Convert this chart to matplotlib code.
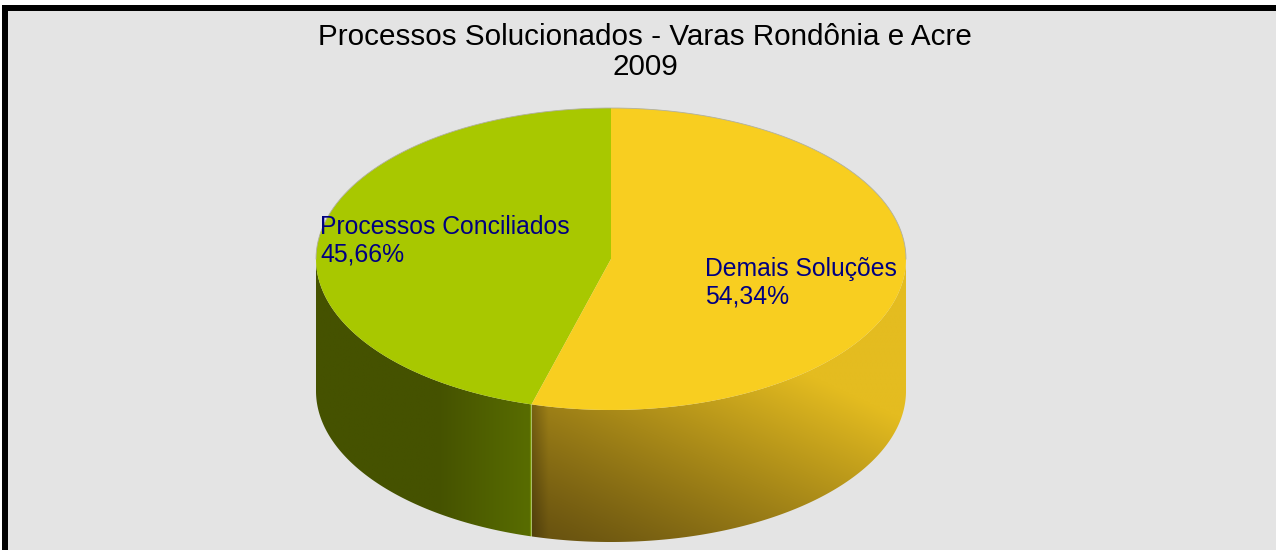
import matplotlib
matplotlib.use("Agg")
import matplotlib.pyplot as plt
import numpy as np
from matplotlib.colors import to_rgb
from matplotlib.patches import Polygon, Rectangle

title = "Processos Solucionados - Varas Rondônia e Acre\n2009"
labels = ["Processos Conciliados", "Demais Soluções"]
shares = [45.66, 54.34]
top_colors = ["#a8c800", "#f8ce20"]

# pie geometry, in pixels (y grows downwards)
CX, CY = 611, 259
RX, RY = 295, 151
DEPTH = 132
W, H = 1276, 550


def arc(t0, t1, n=200, dy=0.0):
    t = np.radians(np.linspace(t0, t1, n))
    return np.column_stack([CX + RX * np.cos(t), CY - RY * np.sin(t) + dy])


def side_poly(t0, t1):
    top = arc(t0, t1)
    bot = arc(t0, t1, dy=DEPTH)[::-1]
    return np.vstack([top, bot])


def gradient_fill(ax, poly, rgb, x0, x1, y0, y1):
    patch = Polygon(poly, closed=True, facecolor="none", edgecolor="none")
    ax.add_patch(patch)
    im = ax.imshow(rgb, extent=(x0, x1, y1, y0), origin="upper",
                   interpolation="bilinear", zorder=2)
    im.set_clip_path(patch)


fig = plt.figure(figsize=(W / 100, H / 100), dpi=100)
fig.patch.set_facecolor("white")
ax = fig.add_axes([0, 0, 1, 1])
ax.set_xlim(0, W)
ax.set_ylim(H, 0)
ax.axis("off")

# frame
ax.add_patch(Rectangle((2, 5), W, H, facecolor="black", edgecolor="none", zorder=0))
ax.add_patch(Rectangle((8, 11), W, H, facecolor="#e4e4e4", edgecolor="none", zorder=0))

# slice angles: first slice starts at 12 o'clock, counter-clockwise
fracs = np.array(shares) / sum(shares)
starts = 90 + 360 * np.concatenate([[0], np.cumsum(fracs)[:-1]])
ends = starts + 360 * fracs
seam = ends[0]  # boundary between the two slices on the front wall

# green side wall (180 deg -> seam)
gx0, gx1 = CX - RX, CX + RX * np.cos(np.radians(seam))
xs = np.linspace(gx0, gx1, 300)
dark_g = np.array(to_rgb("#455200"))
lite_g = np.array(to_rgb("#586c00"))
tg = np.clip((xs - (gx1 - 95)) / 90, 0, 1)[None, :, None]
g_img = np.repeat(dark_g + (lite_g - dark_g) * tg, 10, axis=0)
g_img[:, -4:, :] = to_rgb("#7a9c00")
gradient_fill(ax, side_poly(180, seam), g_img, gx0, gx1 + 1, CY, CY + RY + DEPTH + 2)

# yellow side wall (seam -> 360 deg), dark lower-left to bright upper-right
yx0, yx1 = gx1, CX + RX
ny, nx = 200, 300
xx, yy = np.meshgrid(np.linspace(0, 1, nx), np.linspace(0, 1, ny))
yv = CY + yy * (RY + DEPTH)
t = np.clip(0.62 * xx + 0.5 * (1 - (yv - 400) / 140) - 0.05, 0, 1) ** 1.1
dark_y = np.array(to_rgb("#6a5410"))
lite_y = np.array(to_rgb("#e4bc20"))
y_img = dark_y + (lite_y - dark_y) * t[..., None]
shade = 0.78 + 0.22 * np.clip(xx * (yx1 - yx0) / 16, 0, 1)
y_img = y_img * shade[..., None]
gradient_fill(ax, side_poly(seam, 360), y_img, yx0, yx1, CY, CY + RY + DEPTH + 2)

# top face
for s, e, c in zip(starts, ends, top_colors):
    pts = np.vstack([[CX, CY], arc(s, e)])
    ax.add_patch(Polygon(pts, closed=True, facecolor=c, edgecolor="none", zorder=3))
ax.plot(*arc(0, 180, 300).T, color="#b0b0a0", lw=0.6, zorder=3)

# labels
ax.text(320, 241, f"{labels[0]}\n{shares[0]:.2f}%".replace(".", ","),
        ha="left", va="center", fontsize=17.8, color="#000080",
        family="Liberation Sans", linespacing=1.2, zorder=4)
ax.text(705, 283, f"{labels[1]}\n{shares[1]:.2f}%".replace(".", ","),
        ha="left", va="center", fontsize=17.8, color="#000080",
        family="Liberation Sans", linespacing=1.2, zorder=4)

ax.text(645, 52, title, ha="center", va="center", fontsize=21.3,
        color="black", family="Liberation Sans", linespacing=1.1, zorder=4)

fig.savefig("out.png", dpi=100)
